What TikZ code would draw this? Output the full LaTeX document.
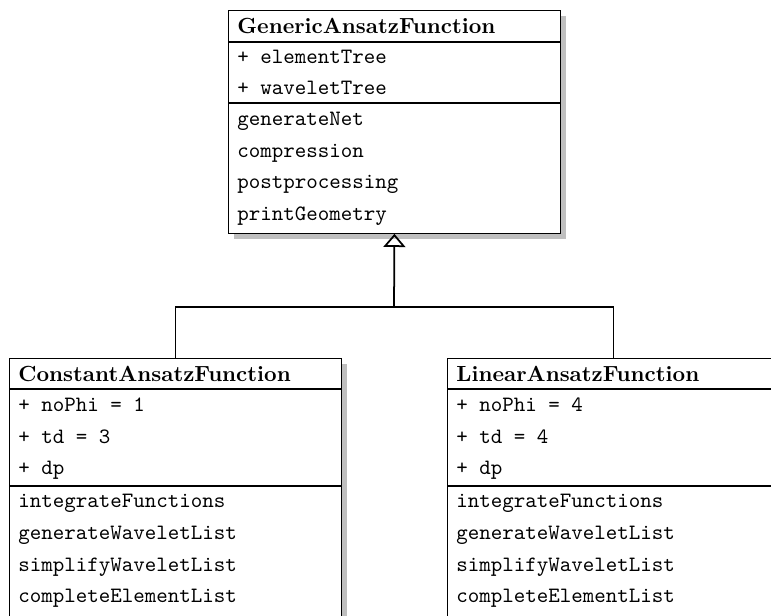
\documentclass[tikz,border=0pt]{standalone}
\usetikzlibrary{shadows,arrows.meta}
\begin{document}
\begin{tikzpicture}[x=0.4566pt,y=-0.4566pt,
  classbox/.style={draw=black, line width=0.4pt, fill=white, anchor=north west,
    minimum width=151.6pt, inner sep=0pt,
    drop shadow={shadow xshift=2.4pt, shadow yshift=-2.6pt, fill=black!25, opacity=1}},
  sepline/.style={line width=0.6pt},
  classtitle/.style={anchor=base west, inner sep=0pt, font=\bfseries},
  member/.style={anchor=base west, inner sep=0pt, font=\ttfamily},
  conn/.style={line width=0.8pt},
  inherit/.style={conn, -{Triangle[open, length=6pt, width=10pt, line width=0.8pt]}}]
\useasboundingbox (0,0) rectangle (771,616);
\clip (0,0) rectangle (771,616);

% boxes
\node[classbox, minimum height=101.8pt] (gen) at (228,10) {};
\node[classbox, minimum height=120pt] (const) at (9,358) {};
\node[classbox, minimum height=120pt] (lin) at (447,358) {};

% separators
\draw[sepline] (gen.west |- 0,42) -- (gen.east |- 0,42);
\draw[sepline] (gen.west |- 0,103) -- (gen.east |- 0,103);
\draw[sepline] (const.west |- 0,389) -- (const.east |- 0,389);
\draw[sepline] (const.west |- 0,486) -- (const.east |- 0,486);
\draw[sepline] (lin.west |- 0,389) -- (lin.east |- 0,389);
\draw[sepline] (lin.west |- 0,486) -- (lin.east |- 0,486);

% top class texts
\node[classtitle] (gt) at (237,33) {GenericAnsatzFunction};
\node[member] (ga1) at (237,63) {+ elementTree};
\node[member] (ga2) at (237,94) {+ waveletTree};
\node[member] (gm1) at (237,125) {generateNet};
\node[member] (gm2) at (237,157) {compression};
\node[member] (gm3) at (237,188) {postprocessing};
\node[member] (gm4) at (237,220) {printGeometry};

% left class texts
\node[classtitle] (ct) at (18,381) {ConstantAnsatzFunction};
\node[member] (ca1) at (18,411) {+ noPhi = 1};
\node[member] (ca2) at (18,443) {+ td = 3};
\node[member] (ca3) at (18,474) {+ dp};
\node[member] (cm1) at (18,507) {integrateFunctions};
\node[member] (cm2) at (18,539) {generateWaveletList};
\node[member] (cm3) at (18,571) {simplifyWaveletList};
\node[member] (cm4) at (18,602) {completeElementList};

% right class texts
\node[classtitle] (lt) at (456,381) {LinearAnsatzFunction};
\node[member] (la1) at (456,411) {+ noPhi = 4};
\node[member] (la2) at (456,443) {+ td = 4};
\node[member] (la3) at (456,474) {+ dp};
\node[member] (lm1) at (456,507) {integrateFunctions};
\node[member] (lm2) at (456,539) {generateWaveletList};
\node[member] (lm3) at (456,571) {simplifyWaveletList};
\node[member] (lm4) at (456,602) {completeElementList};

% connectors
\coordinate (junc) at (394,307);
\draw[conn] (const.north) |- (junc) -| (lin.north);
\draw[inherit] (junc) -- (gen.south);
\end{tikzpicture}
\end{document}
